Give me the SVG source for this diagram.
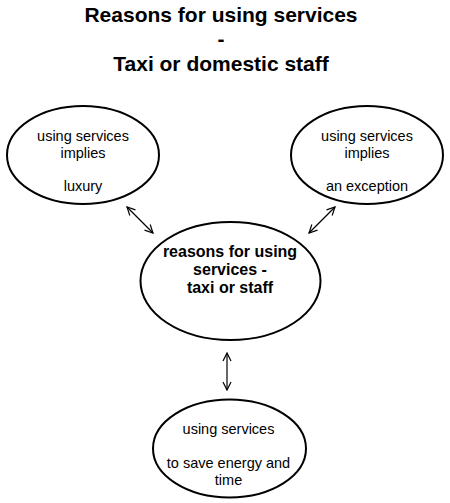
<svg xmlns="http://www.w3.org/2000/svg" width="450" height="503" viewBox="0 0 450 503">
<style>
.title{font-family:"Liberation Sans",Arial,sans-serif;font-weight:bold;font-size:21px;text-anchor:middle;fill:#000}
.t{font-family:"Liberation Sans",Arial,sans-serif;font-size:14.5px;text-anchor:middle;fill:#000}
.b{font-family:"Liberation Sans",Arial,sans-serif;font-weight:bold;font-size:16px;text-anchor:middle;fill:#000}
ellipse{fill:#fff;stroke:#000;stroke-width:2}
.c{stroke:#000;stroke-width:1.2;fill:none;marker-start:url(#a);marker-end:url(#a)}
</style>
<defs>
<marker id="a" viewBox="0 0 10 10" refX="9" refY="5" markerWidth="10" markerHeight="10" markerUnits="userSpaceOnUse" orient="auto-start-reverse">
<polyline points="1,1 9,5 1,9" fill="none" stroke="#000" stroke-width="1.2"/>
</marker>
</defs>
<rect width="450" height="503" fill="#fff"/>
<g id="title">
<text class="title" x="221" y="22">Reasons for using services</text>
<text class="title" x="221" y="46">-</text>
<text class="title" x="221" y="71">Taxi or domestic staff</text>
</g>
<g id="connectors">
<line class="c" x1="127" y1="207" x2="153" y2="233"/>
<line class="c" x1="335" y1="207" x2="309" y2="233"/>
<line class="c" x1="227" y1="353" x2="227" y2="390"/>
</g>
<g id="luxury">
<ellipse cx="83" cy="155" rx="76" ry="49"/>
<text class="t" x="83" y="141">using services</text>
<text class="t" x="83" y="157.5">implies</text>
<text class="t" x="83" y="191">luxury</text>
</g>
<g id="exception">
<ellipse cx="367" cy="155" rx="76" ry="49"/>
<text class="t" x="367" y="141">using services</text>
<text class="t" x="367" y="157.5">implies</text>
<text class="t" x="367" y="191">an exception</text>
</g>
<g id="center">
<ellipse cx="230.5" cy="281" rx="90" ry="59"/>
<text class="b" x="230" y="257">reasons for using</text>
<text class="b" x="230" y="275">services -</text>
<text class="b" x="230" y="293">taxi or staff</text>
</g>
<g id="save">
<ellipse cx="229.5" cy="448.5" rx="76.5" ry="49"/>
<text class="t" x="228.5" y="434">using services</text>
<text class="t" x="228.5" y="468">to save energy and</text>
<text class="t" x="228.5" y="484.5">time</text>
</g>
</svg>
